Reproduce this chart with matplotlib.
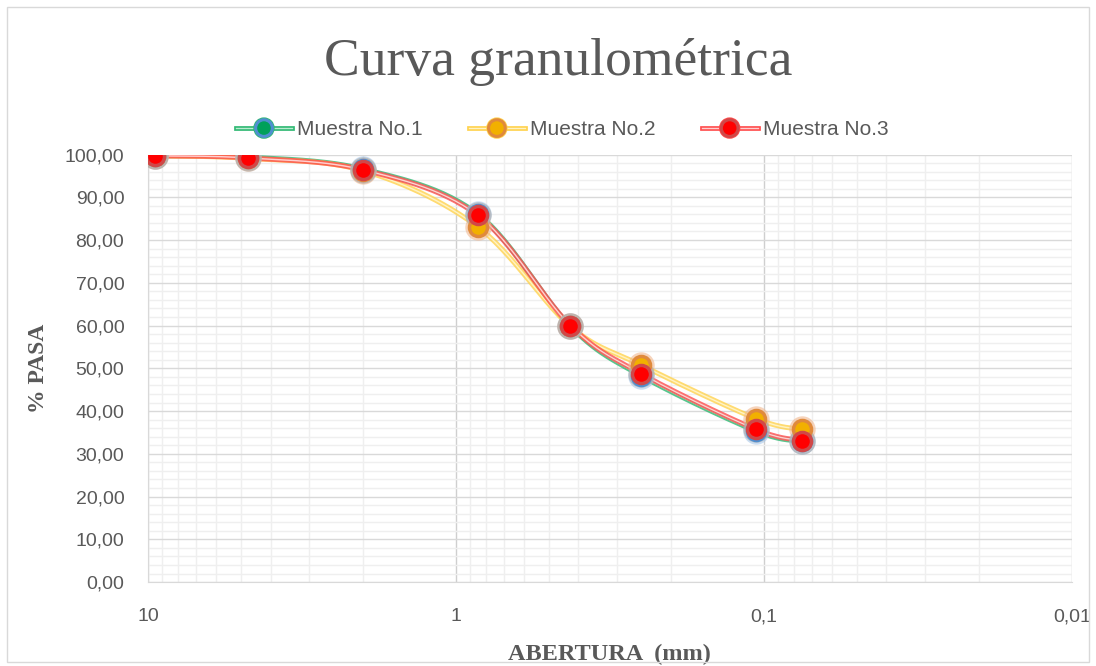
import numpy as np
import matplotlib
matplotlib.use("Agg")
import matplotlib.pyplot as plt
import matplotlib.patheffects as pe
from matplotlib.lines import Line2D
from matplotlib.ticker import FixedLocator, LogLocator, MultipleLocator, FuncFormatter

# Sieve openings (mm) and % passing per sample
abertura = [9.5, 4.75, 2.0, 0.85, 0.425, 0.25, 0.106, 0.075]
muestra_1 = [99.7, 99.4, 96.6, 86.1, 59.8, 48.2, 35.3, 32.9]
muestra_2 = [99.7, 99.1, 96.2, 83.1, 59.8, 50.7, 38.2, 35.7]
muestra_3 = [99.7, 99.2, 96.4, 85.8, 60.0, 48.7, 35.7, 33.1]
labels = ["Muestra No.1", "Muestra No.2", "Muestra No.3"]

# line color, line highlight, marker fill, marker ring, marker glow
styles = [
    ("#2eb872", "#b8ecd0", "#00a05a", "#4f8fd0", "#a9c8ea"),
    ("#ffd24d", "#fff3c4", "#f2b000", "#e08a3c", "#f0b890"),
    ("#ff4d4d", "#ffd0d0", "#ff0000", "#d04848", "#a8a8a8"),
]

gray = "#595959"

fig = plt.figure(figsize=(10.96, 6.66), dpi=100)
fig.patch.set_facecolor("white")
fig.patches.append(plt.Rectangle((0.006, 0.006), 0.988, 0.984, transform=fig.transFigure,
                                 fill=False, edgecolor="#d9d9d9", lw=1.0))
ax = fig.add_axes([0.135, 0.126, 0.843, 0.642])
ax.set_xscale("log")
ax.set_xlim(10, 0.01)
ax.set_ylim(0, 100)

# grid
ax.yaxis.set_major_locator(MultipleLocator(10))
ax.yaxis.set_minor_locator(MultipleLocator(2))
ax.xaxis.set_major_locator(FixedLocator([10, 1, 0.1, 0.01]))
ax.xaxis.set_minor_locator(LogLocator(base=10, subs=np.arange(2, 10)))
ax.grid(which="major", axis="y", color="#d9d9d9", lw=1.0)
ax.grid(which="minor", axis="y", color="#efefef", lw=1.0)
ax.grid(which="major", axis="x", color="#cfcfcf", lw=1.0)
ax.grid(which="minor", axis="x", color="#efefef", lw=1.0)
ax.set_axisbelow(True)
for s in ["top", "right"]:
    ax.spines[s].set_visible(False)
for s in ["left", "bottom"]:
    ax.spines[s].set_color("#d9d9d9")
ax.tick_params(which="both", length=0)
ax.tick_params(axis="y", labelsize=14, labelcolor=gray, pad=17)
ax.tick_params(axis="x", labelsize=14, labelcolor=gray, pad=19)
ax.yaxis.set_major_formatter(FuncFormatter(lambda v, p: f"{v:.2f}".replace(".", ",")))
ax.xaxis.set_major_formatter(FuncFormatter(lambda v, p: {10: "10", 1: "1", 0.1: "0,1", 0.01: "0,01"}.get(round(v, 2), "")))
for t in ax.get_xticklabels() + ax.get_yticklabels():
    t.set_fontfamily("Liberation Sans")


def smooth(xs, ys, n=30):
    # Excel-style smoothed line, built in screen space
    pts = ax.transData.transform(np.column_stack([xs, ys]))
    p = np.vstack([pts[0], pts, pts[-1]])
    out = []
    for i in range(1, len(p) - 2):
        p0, p1, p2, p3 = p[i - 1], p[i], p[i + 1], p[i + 2]
        c1 = p1 + (p2 - p0) / 6
        c2 = p2 - (p3 - p1) / 6
        t = np.linspace(0, 1, n)[:, None]
        seg = ((1 - t) ** 3) * p1 + 3 * ((1 - t) ** 2) * t * c1 + 3 * (1 - t) * t ** 2 * c2 + t ** 3 * p2
        out.append(seg if i == 1 else seg[1:])
    out = np.vstack(out)
    d = ax.transData.inverted().transform(out)
    return d[:, 0], d[:, 1]


series = [muestra_1, muestra_2, muestra_3]
handles = []
for vals, st, lab in zip(series, styles, labels):
    lc, lh, mf, mr, mg = st
    sx, sy = smooth(abertura, vals)
    ax.plot(sx, sy, color=lh, lw=1.0, zorder=3,
            path_effects=[pe.Stroke(linewidth=3.6, foreground=lc, alpha=0.8), pe.Normal()])
for vals, st in zip(series, styles):
    lc, lh, mf, mr, mg = st
    ax.plot(abertura, vals, ls="none", marker="o", ms=19, mfc=mg, mec="none", alpha=0.6, zorder=4)
    ax.plot(abertura, vals, ls="none", marker="o", ms=13, mfc=mf, mec=mr, mew=2.5, zorder=5)

for st, lab in zip(styles, labels):
    lc, lh, mf, mr, mg = st
    handles.append(Line2D([], [], color=lh, lw=1.0, marker="o", ms=12, mfc=mf, mec=mr, mew=2.2,
                          path_effects=[pe.Stroke(linewidth=3.4, foreground=lc), pe.Normal()], label=lab))

leg = fig.legend(handles=handles, loc="center", bbox_to_anchor=(0.513, 0.805), ncol=3, frameon=False,
                 handlelength=2.7, handletextpad=0.25, columnspacing=2.2,
                 prop={"family": "Liberation Sans", "size": 15})
for t in leg.get_texts():
    t.set_color(gray)

fig.text(0.509, 0.907, "Curva granulométrica", ha="center", va="center", fontsize=38.5,
         color=gray, family="Liberation Serif")
ax.set_ylabel("% PASA", fontsize=17, fontweight="bold", color=gray, family="Liberation Serif", labelpad=11)
ax.set_xlabel("ABERTURA  (mm)", fontsize=17.5, fontweight="bold", color=gray, family="Liberation Serif", labelpad=13)

fig.savefig("out.png", dpi=100)
